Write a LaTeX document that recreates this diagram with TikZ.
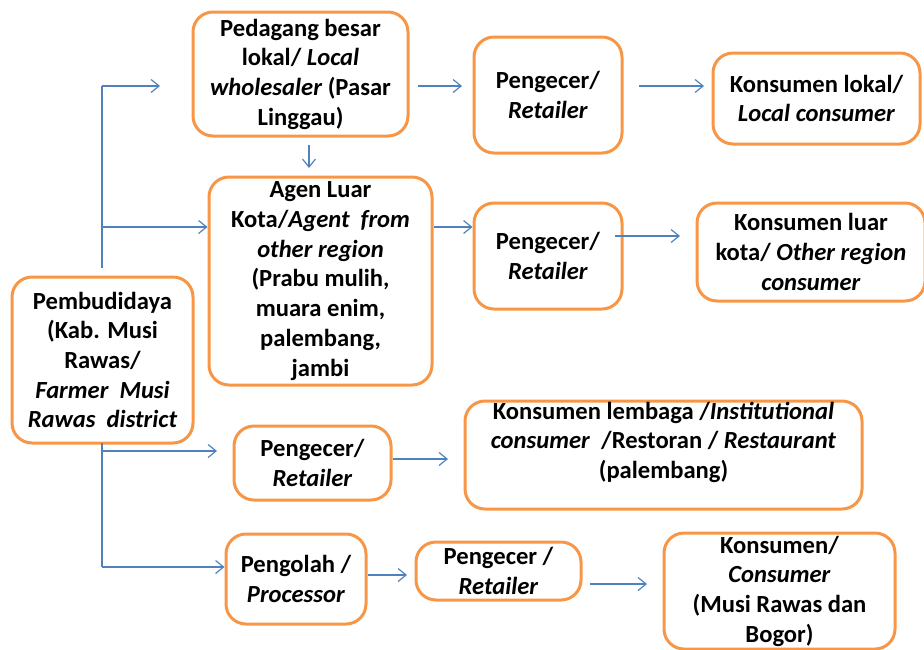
\documentclass[tikz,border=0pt]{standalone}
\usepackage{fontspec}
\setmainfont{Carlito}
\usetikzlibrary{arrows.meta}
\definecolor{boxorange}{HTML}{F79646}
\definecolor{flowblue}{HTML}{4F81BD}
\tikzset{
  box/.style={draw=boxorange, line width=3pt, rounded corners=20pt, align=center,
    inner sep=0pt, font=\bfseries\fontsize{24.6}{29.7}\selectfont},
  link/.style={draw=flowblue, line width=1.2pt},
  flow/.style={link, -{Straight Barb[length=8pt,width=13pt]}}
}

\begin{document}
\begin{tikzpicture}[x=1pt,y=-1pt]
			%%%%% START %%%%%
			\useasboundingbox (0,0) rectangle (924,649);
			\clip (0,0) rectangle (924,649);
			
			% boxes
			\node[box, minimum width=215pt, minimum height=124pt] (whole) at (300.5,74) {Pedagang besar\\lokal/ \textit{Local}\\\textit{wholesaler} (Pasar\\Linggau)};
			\node[box, minimum width=148pt, minimum height=116pt] (retA) at (548,95) {Pengecer/\\\textit{Retailer}};
			\node[box, minimum width=207pt, minimum height=91pt] (local) at (816.5,98.5) {Konsumen lokal/\\\textit{Local consumer}};
			
			\node[box, minimum width=223pt, minimum height=208pt] (agent) at (320.5,281) {Agen Luar\\Kota/\textit{Agent~ from}\\\textit{other region}\\(Prabu mulih,\\muara enim,\\palembang,\\jambi};
			\node[box, minimum width=148pt, minimum height=106pt] (retB) at (548,256) {Pengecer/\\\textit{Retailer}};
			\node[box, minimum width=228pt, minimum height=98pt] (other) at (811,252) {Konsumen luar\\kota/ \textit{Other region}\\\textit{consumer}};
			
			\node[box, minimum width=181pt, minimum height=166pt] (farmer) at (102.5,360) {Pembudidaya\\(Kab. Musi\\Rawas/\\\textit{Farmer~ Musi}\\\textit{Rawas~ district}};
			
			\node[box, minimum width=157pt, minimum height=74pt] (retC) at (312.5,463) {Pengecer/\\\textit{Retailer}};
			\node[box, minimum width=397pt, minimum height=108pt] (inst) at (663.5,455) {Konsumen lembaga /\textit{Institutional}\\\textit{consumer}~ /Restoran / \textit{Restaurant}\\(palembang)\\~};
			
			\node[box, minimum width=140pt, minimum height=90pt] (proc) at (296,579) {Pengolah /\\\textit{Processor}};
			\node[box, minimum width=165pt, minimum height=58pt] (retD) at (498.5,571) {Pengecer /\\\textit{Retailer}};
			\node[box, minimum width=231pt, minimum height=116pt] (cons) at (779.5,591) {Konsumen/\\\textit{Consumer}\\(Musi Rawas dan\\Bogor)};
			
			% arrow ends
			\coordinate (upT) at (102,268);
			\coordinate (upK) at (102,86);
			\coordinate (upE) at (160,86);
			\coordinate (midK) at (102,227);
			\coordinate (downS) at (309,145);
			\coordinate (downE) at (309,168);
			\coordinate (wholeE) at (462,86);
			\coordinate (retAS) at (639,86);
			\coordinate (retAE) at (704,86);
			\coordinate (retBS) at (615,236);
			\coordinate (retBE) at (680,236);
			\coordinate (lowT) at (102,443);
			\coordinate (lowB) at (102,567);
			\coordinate (lowK) at (102,451);
			\coordinate (lowE) at (217,451);
			\coordinate (retCE) at (448,459);
			\coordinate (procE) at (407,575);
			\coordinate (retDS) at (590,584);
			\coordinate (retDE) at (647,584);
			
			% upper branch
			\draw[link] (upT) -- (upK);
			\draw[flow] (upK) -- (upE);
			\draw[flow] (midK) -- (agent.west |- midK);
			\draw[flow] (downS) -- (downE);
			\draw[flow] (whole.east |- upK) ++(8,0) -- (wholeE);
			\draw[flow] (retAS) -- (retAE);
			\draw[flow] (agent.east |- midK) -- (retB.west |- midK);
			\draw[flow] (retBS) -- (retBE);
			
			% lower branch
			\draw[link] (lowT) -- (lowB);
			\draw[flow] (lowK) -- (lowE);
			\draw[flow] (lowB) -- (proc.west |- lowB);
			\draw[flow] (retC.east |- retCE) -- (retCE);
			\draw[flow] (proc.east |- procE) -- (procE);
			\draw[flow] (retDS) -- (retDE);
			
			%%%%% END %%%%%
\end{tikzpicture}
\end{document}
